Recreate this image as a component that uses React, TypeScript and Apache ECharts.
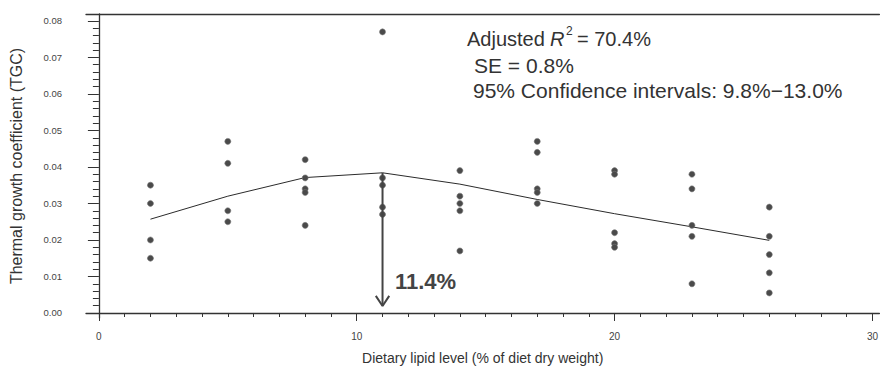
import React, { useEffect, useRef } from "react";
import * as echarts from "echarts";

const FONT = "Liberation Sans, Arial, Helvetica, sans-serif";

// Dietary lipid levels (x) tested
const lipidLevels = [2, 5, 8, 11, 14, 17, 20, 23, 26];
// Observed TGC replicates at each lipid level
const tgcObserved: number[][] = [
  [0.035, 0.030, 0.020, 0.015],
  [0.047, 0.041, 0.028, 0.025],
  [0.042, 0.037, 0.034, 0.033, 0.024],
  [0.077, 0.037, 0.035, 0.029, 0.027],
  [0.039, 0.032, 0.030, 0.028, 0.017],
  [0.047, 0.044, 0.034, 0.033, 0.030],
  [0.039, 0.038, 0.022, 0.019, 0.018],
  [0.038, 0.034, 0.024, 0.021, 0.008],
  [0.029, 0.021, 0.016, 0.011, 0.0055],
];
// Fitted broken-line model at each level
const fittedTgc = [0.0257, 0.032, 0.0371, 0.0384, 0.0353, 0.0311, 0.0272, 0.0236, 0.0199];

// Optimum arrow
const optimumX = 11;
const optimumTop = 0.0384;
const arrowTip = 0.0019;
const arrowHead = [
  [10.74, 0.0047],
  [11, 0.0019],
  [11.26, 0.0047],
];

// Axis ticks
const xMajorTicks = [0, 10, 20, 30];
const yMajorTicks = [0, 0.01, 0.02, 0.03, 0.04, 0.05, 0.06, 0.07, 0.08];
const xMinorTicks: number[] = [];
for (let i = 0; i <= 30; i++) if (i % 10 !== 0) xMinorTicks.push(i);
const yMinorTicks: number[] = [];
for (let i = 0; i <= 40; i++) if (i % 5 !== 0) yMinorTicks.push(i * 0.002);

const X_MIN = -0.5;
const X_MAX = 30.27;
const Y_MIN = -0.00137;
const Y_MAX = 0.0819;

const INK = "#333";

export default function App() {
  const ref = useRef<HTMLDivElement>(null);
  useEffect(() => {
    if (!ref.current) return;
    const chart = echarts.init(ref.current, null, { renderer: "svg" });
    const scatterData: number[][] = [];
    lipidLevels.forEach((x, i) => tgcObserved[i].forEach((y) => scatterData.push([x, y])));
    const option: any = {
      animation: false,
      backgroundColor: "#fff",
      grid: { left: 86, right: 1, top: 14, bottom: 51 },
      xAxis: [
        {
          type: "value",
          min: X_MIN,
          max: X_MAX,
          position: "bottom",
          axisLine: { show: true, lineStyle: { color: INK, width: 1.3 } },
          axisTick: { show: true, customValues: xMajorTicks, length: 8, lineStyle: { color: INK } },
          axisLabel: { customValues: xMajorTicks, fontSize: 10, color: "#444", margin: 13, fontFamily: FONT },
          splitLine: { show: false },
          name: "Dietary lipid level (% of diet dry weight)",
          nameLocation: "middle",
          nameGap: 33,
          nameTextStyle: { fontSize: 14, color: INK, fontFamily: FONT },
        },
        {
          type: "value",
          min: X_MIN,
          max: X_MAX,
          position: "bottom",
          axisLine: { show: false },
          axisTick: { show: true, customValues: xMinorTicks, length: 4, lineStyle: { color: INK } },
          axisLabel: { show: false },
          splitLine: { show: false },
        },
        {
          type: "value",
          min: X_MIN,
          max: X_MAX,
          position: "top",
          axisLine: { show: true, lineStyle: { color: INK, width: 1.3 } },
          axisTick: { show: false },
          axisLabel: { show: false },
          splitLine: { show: false },
        },
      ],
      yAxis: [
        {
          type: "value",
          min: Y_MIN,
          max: Y_MAX,
          position: "left",
          axisLine: { show: true, lineStyle: { color: INK, width: 1.3 } },
          axisTick: { show: true, customValues: yMajorTicks, length: 11, lineStyle: { color: INK } },
          axisLabel: {
            customValues: yMajorTicks,
            formatter: (v: number) => v.toFixed(2),
            fontSize: 9.5,
            color: "#444",
            margin: 24,
            fontFamily: FONT,
          },
          splitLine: { show: false },
          name: "Thermal growth coefficient (TGC)",
          nameLocation: "middle",
          nameGap: 62,
          nameRotate: 90,
          nameTextStyle: { fontSize: 16, color: INK, fontFamily: FONT },
        },
        {
          type: "value",
          min: Y_MIN,
          max: Y_MAX,
          position: "left",
          axisLine: { show: false },
          axisTick: { show: true, customValues: yMinorTicks, length: 6, lineStyle: { color: INK } },
          axisLabel: { show: false },
          splitLine: { show: false },
        },
      ],
      series: [
        {
          type: "line",
          data: lipidLevels.map((x, i) => [x, fittedTgc[i]]),
          symbol: "none",
          lineStyle: { color: "#2b2b2b", width: 1 },
          z: 2,
        },
        {
          type: "scatter",
          data: scatterData,
          symbolSize: 6,
          itemStyle: { color: "#4a4a4a", borderColor: "#777", borderWidth: 0.6, opacity: 1 },
          z: 3,
        },
        {
          type: "line",
          data: [
            [optimumX, optimumTop],
            [optimumX, arrowTip],
          ],
          symbol: "none",
          lineStyle: { color: "#444", width: 2 },
          z: 4,
        },
        {
          type: "line",
          data: arrowHead,
          symbol: "none",
          lineStyle: { color: "#444", width: 2 },
          z: 4,
        },
      ],
      graphic: [
        {
          type: "text",
          left: 395,
          top: 270,
          style: { text: "11.4%", font: `bold 22px ${FONT}`, fill: "#444" },
        },
        {
          type: "text",
          left: 467,
          top: 29,
          style: { text: "Adjusted", font: `20px ${FONT}`, fill: INK },
        },
        {
          type: "text",
          left: 550,
          top: 29,
          style: { text: "R", font: `italic 20px ${FONT}`, fill: INK },
        },
        {
          type: "text",
          left: 566,
          top: 25,
          style: { text: "2", font: `12px ${FONT}`, fill: INK },
        },
        {
          type: "text",
          left: 577,
          top: 29,
          style: { text: "= 70.4%", font: `20px ${FONT}`, fill: INK },
        },
        {
          type: "text",
          left: 474,
          top: 55,
          style: { text: "SE = 0.8%", font: `21px ${FONT}`, fill: INK },
        },
        {
          type: "text",
          left: 473,
          top: 80,
          style: { text: "95% Confidence intervals: 9.8%−13.0%", font: `21px ${FONT}`, fill: INK },
        },
      ],
    };
    chart.setOption(option);
    return () => chart.dispose();
  }, []);
  return (
    <div
      ref={ref}
      style={{ position: "fixed", left: 0, top: 0, width: 881, height: 370, background: "#fff" }}
    />
  );
}
